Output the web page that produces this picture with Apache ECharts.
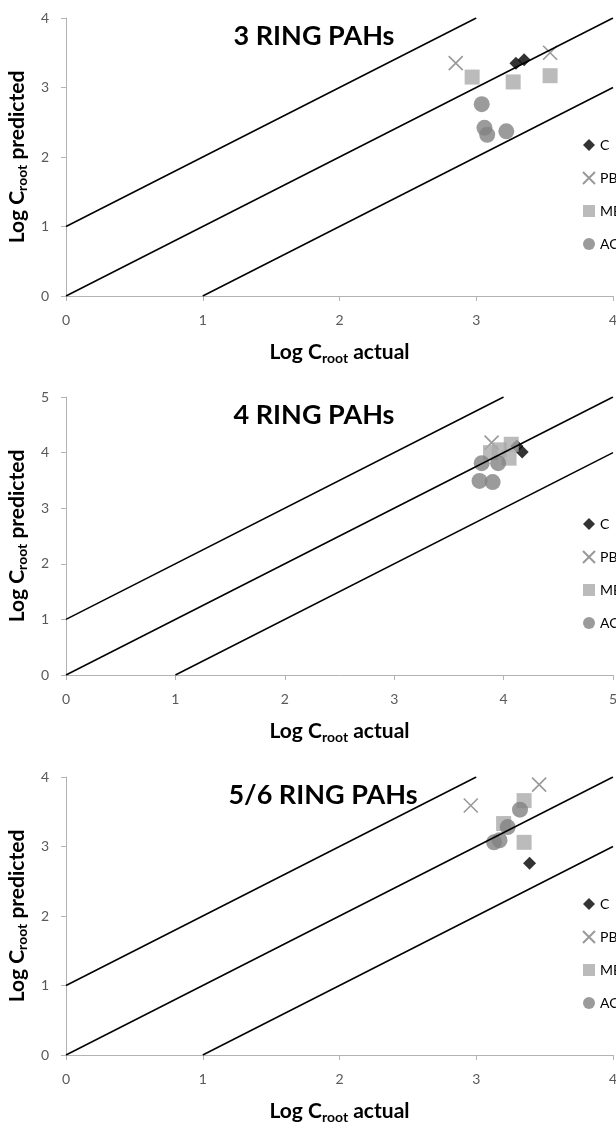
<!DOCTYPE html>
<html>
<head>
<meta charset="utf-8">
<script src="https://cdn.jsdelivr.net/npm/echarts@6/dist/echarts.min.js"></script>
<style>
html,body{margin:0;padding:0;background:#fff;}
#chart{width:616px;height:1126px;}
</style>
</head>
<body>
<div id="chart"></div>
<script>
// ---- data ----
const seriesNames = ['C', 'PB', 'MB', 'AC'];
const panelTitles = ['3 RING PAHs', '4 RING PAHs', '5/6 RING PAHs'];
const axisMax = [4, 5, 4];

// panel 1: 3 ring
const p1C  = [[3.29, 3.35], [3.35, 3.40]];
const p1PB = [[2.85, 3.35], [3.54, 3.50]];
const p1MB = [[2.97, 3.15], [3.27, 3.08], [3.54, 3.17]];
const p1AC = [[3.04, 2.76], [3.06, 2.42], [3.08, 2.32], [3.22, 2.37]];

// panel 2: 4 ring
const p2C  = [[4.12, 4.12], [4.17, 4.01]];
const p2PB = [[3.89, 4.18]];
const p2MB = [[3.88, 4.00], [3.96, 4.05], [4.07, 4.15], [4.05, 3.90]];
const p2AC = [[3.80, 3.81], [3.95, 3.81], [3.78, 3.49], [3.90, 3.47]];

// panel 3: 5/6 ring
const p3C  = [[3.39, 2.76]];
const p3PB = [[2.96, 3.59], [3.46, 3.89]];
const p3MB = [[3.35, 3.66], [3.20, 3.33], [3.35, 3.06]];
const p3AC = [[3.32, 3.53], [3.23, 3.28], [3.17, 3.09], [3.13, 3.06]];

// reference lines (1:1 and +/- one log unit)
const p1Lines = [[[0, 1], [3, 4]], [[0, 0], [4, 4]], [[1, 0], [4, 3]]];
const p2Lines = [[[0, 1], [4, 5]], [[0, 0], [5, 5]], [[1, 0], [5, 4]]];
const p3Lines = [[[0, 1], [3, 4]], [[0, 0], [4, 4]], [[1, 0], [4, 3]]];

const panelData = [
  [p1C, p1PB, p1MB, p1AC],
  [p2C, p2PB, p2MB, p2AC],
  [p3C, p3PB, p3MB, p3AC]
];
const panelLines = [p1Lines, p2Lines, p3Lines];

// ---- styles ----
const FONT = 'Lato, "Open Sans", sans-serif';
const gridTops = [18, 397, 777];
const gridH = 278;
const titleTops = [18, 397, 777];
const titleX = [309, 309, 318];
const crossPath = 'path://M0,0L10,10M10,0L0,10';

const markerStyles = [
  { symbol: 'diamond', symbolSize: 13, itemStyle: { color: '#000000' } },
  { symbol: crossPath, symbolSize: 14, itemStyle: { color: 'rgba(0,0,0,0)', borderColor: '#7f7f7f', borderWidth: 1.6 } },
  { symbol: 'rect', symbolSize: 15, itemStyle: { color: '#aaaaaa' } },
  { symbol: 'circle', symbolSize: 16, itemStyle: { color: '#828282' } }
];

const nameRich = {
  b: { fontFamily: FONT, fontWeight: 'bold', fontSize: 21, color: '#000', lineHeight: 26, verticalAlign: 'middle' },
  s: { fontFamily: FONT, fontWeight: 'bold', fontSize: 14, color: '#000', lineHeight: 14, verticalAlign: 'bottom' }
};

const grids = [], xAxes = [], yAxes = [], titles = [], legends = [], series = [];

for (let p = 0; p < 3; p++) {
  grids.push({ left: 66, right: 3, top: gridTops[p], height: gridH, outerBoundsMode: 'none', containLabel: false });
  const axisCommon = {
    min: 0, max: axisMax[p], interval: 1,
    axisLine: { show: true, lineStyle: { color: '#b3b3b3', width: 1 } },
    axisTick: { show: true, inside: false, length: 5, lineStyle: { color: '#b3b3b3' } },
    splitLine: { show: false },
    axisLabel: { color: '#595959', fontSize: 14, fontFamily: FONT, margin: 17 }
  };
  xAxes.push(Object.assign({}, axisCommon, {
    type: 'value', gridIndex: p,
    name: '{b|Log C}{s|root}{b| actual}',
    nameLocation: 'middle', nameGap: 43,
    nameTextStyle: { rich: nameRich }
  }));
  yAxes.push(Object.assign({}, axisCommon, {
    type: 'value', gridIndex: p,
    name: '{b|Log C}{s|root}{b| predicted}',
    nameLocation: 'middle', nameGap: 27, nameRotate: 90,
    nameTextStyle: { rich: nameRich }
  }));
  titles.push({
    text: panelTitles[p], left: titleX[p], top: titleTops[p], textAlign: 'center',
    textStyle: { fontFamily: FONT, fontWeight: 'bold', fontSize: 27, color: '#000' }
  });
  legends.push({
    data: seriesNames, orient: 'vertical', left: 577, top: gridTops[p] + 115,
    itemWidth: 12, itemHeight: 12, itemGap: 19, selectedMode: false,
    textStyle: { fontFamily: FONT, fontSize: 14, color: '#000' }
  });
  for (let s = 0; s < 4; s++) {
    series.push(Object.assign({
      name: seriesNames[s], type: 'scatter', xAxisIndex: p, yAxisIndex: p,
      data: panelData[p][s], z: 2, silent: true
    }, markerStyles[s]));
  }
  panelLines[p].forEach(function (seg) {
    series.push({
      type: 'line', xAxisIndex: p, yAxisIndex: p, data: seg,
      symbol: 'none', lineStyle: { color: '#000', width: 1.5 }, z: 5, silent: true
    });
  });
}

const chart = echarts.init(document.getElementById('chart'), null, { renderer: 'canvas' });
chart.setOption({
  animation: false,
  backgroundColor: '#fff',
  title: titles,
  legend: legends,
  grid: grids,
  xAxis: xAxes,
  yAxis: yAxes,
  series: series
});
</script>
</body>
</html>
